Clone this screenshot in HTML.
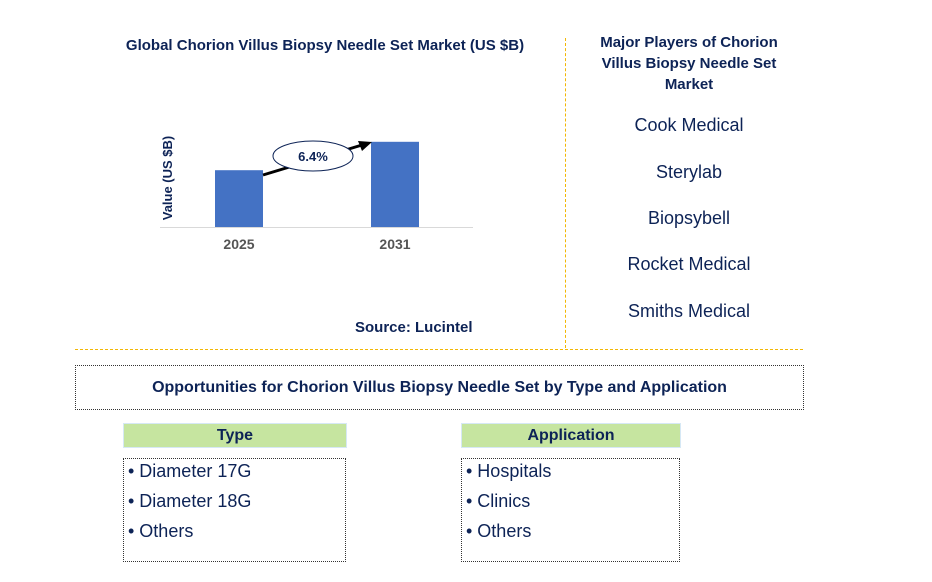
<!DOCTYPE html>
<html><head><meta charset="utf-8"><style>
body{margin:0;width:932px;height:582px;background:#fff;font-family:"Liberation Sans",Arial,sans-serif;position:relative;overflow:hidden}
.a{position:absolute}
.t{color:#0d2356;font-weight:bold}
.p{color:#0d2356;font-size:18px;width:250px;text-align:center;left:564px}
.hd{background:#c6e5a0;border:1px solid #d6e8f5;color:#0d2356;font-weight:bold;font-size:16px;text-align:center;line-height:23px;height:23px}
.lst{border:1px dotted #333;color:#0d2356;font-size:18px;box-sizing:border-box;padding:0 0 0 4px;line-height:30px}
.lst div{margin-top:-3px}
</style></head><body>
<div class="a t" style="left:80px;top:37px;width:490px;text-align:center;font-size:15px">Global Chorion Villus Biopsy Needle Set Market (US $B)</div>
<svg class="a" style="left:0;top:0" width="560" height="340">
<line x1="160" y1="227.5" x2="473" y2="227.5" stroke="#d9d9d9"/>
<text transform="translate(172,178) rotate(-90)" text-anchor="middle" font-size="13" font-weight="bold" fill="#0d2356">Value (US $B)</text>
<g id="bars"></g>
<line x1="263" y1="175" x2="362" y2="145" stroke="#000" stroke-width="3"/>
<polygon points="372,142 358,141 362,151" fill="#000"/>
<ellipse cx="313" cy="156" rx="40" ry="15" fill="#fff" stroke="#0d2356"/>
<text x="313" y="161" text-anchor="middle" font-size="13" font-weight="bold" fill="#0d2356">6.4%</text>
</svg>
<script>
const categories=["2025","2031"];
const values=[2.0,3.0];
const base=227,scale=28.4,xs=[239,395],w=48;
const g=document.getElementById('bars');
const ns='http://www.w3.org/2000/svg';
categories.forEach((c,i)=>{
 const h=values[i]*scale;
 const r=document.createElementNS(ns,'rect');
 r.setAttribute('x',xs[i]-w/2);r.setAttribute('y',base-h);r.setAttribute('width',w);r.setAttribute('height',h);r.setAttribute('fill','#4472c4');
 
 
 g.appendChild(r);
 const t=document.createElementNS(ns,'text');
 t.setAttribute('x',xs[i]);t.setAttribute('y',249);t.setAttribute('text-anchor','middle');t.setAttribute('font-size','14');t.setAttribute('font-weight','bold');t.setAttribute('fill','#555');
 t.textContent=c;
 
 
 g.appendChild(t);
});
</script>
<div class="a t" style="left:355px;top:319px;font-size:15px">Source: Lucintel</div>
<div class="a" style="left:565px;top:38px;height:310px;border-left:1px dashed #f2b705"></div>
<div class="a" style="left:75px;top:349px;width:728px;border-top:1px dashed #f2b705"></div>
<div class="a t" style="left:589px;top:32px;width:200px;text-align:center;font-size:15px;line-height:21px">Major Players of Chorion Villus Biopsy Needle Set Market</div>
<div class="a p" style="top:115px">Cook Medical</div>
<div class="a p" style="top:162px">Sterylab</div>
<div class="a p" style="top:208px">Biopsybell</div>
<div class="a p" style="top:254px">Rocket Medical</div>
<div class="a p" style="top:301px">Smiths Medical</div>
<div class="a t" style="left:75px;top:365px;width:727px;height:43px;border:1px dotted #333;text-align:center;line-height:43px;font-size:16px">Opportunities for Chorion Villus Biopsy Needle Set by Type and Application</div>
<div class="a hd" style="left:123px;top:423px;width:222px">Type</div>
<div class="a lst" style="left:123px;top:458px;width:223px;height:104px"><div>• Diameter 17G<br>• Diameter 18G<br>• Others</div></div>
<div class="a hd" style="left:461px;top:423px;width:218px">Application</div>
<div class="a lst" style="left:461px;top:458px;width:219px;height:104px"><div>• Hospitals<br>• Clinics<br>• Others</div></div>
</body></html>
